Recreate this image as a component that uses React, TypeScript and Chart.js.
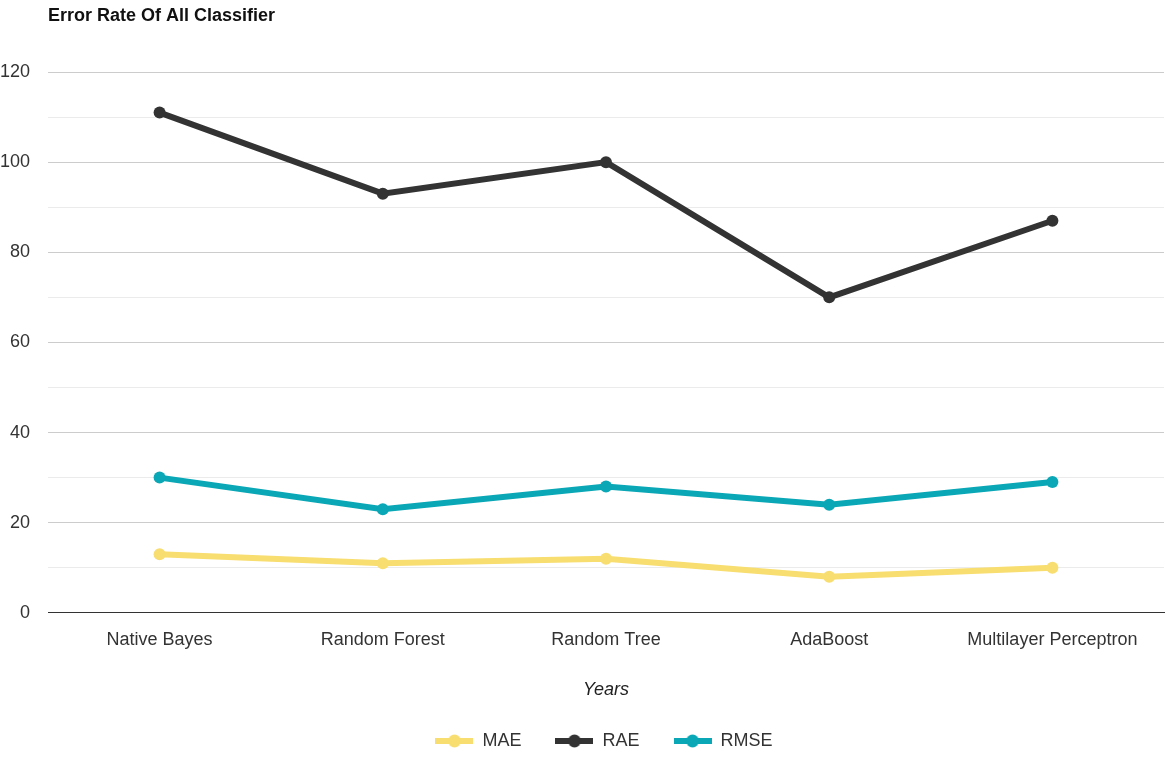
import React, { useEffect, useRef } from "react";
import { Chart, registerables } from "chart.js";

Chart.register(...registerables);

const categories = ["Native Bayes", "Random Forest", "Random Tree", "AdaBoost", "Multilayer Perceptron"];
const maeValues = [13, 11, 12, 8, 10];
const raeValues = [111, 93, 100, 70, 87];
const rmseValues = [30, 23, 28, 24, 29];
const seriesNames = ["MAE", "RAE", "RMSE"];
const seriesColors = ["#f8de70", "#333333", "#0aa7b6"];
const chartTitle = "Error Rate Of All Classifier";
const xAxisTitle = "Years";

const FONT = "'Liberation Sans', Arial, sans-serif";

// Legend marker: short thick line with a dot in the middle
function legendMarker(color: string): HTMLCanvasElement {
  const c = document.createElement("canvas");
  c.width = 38;
  c.height = 14;
  const g = c.getContext("2d")!;
  g.fillStyle = color;
  g.fillRect(0, 4, 38, 6);
  g.beginPath();
  g.arc(19, 7, 6.5, 0, Math.PI * 2);
  g.fill();
  return c;
}

// Title drawn flush with the left edge of the plot area; legend centred under the plot area
const titlePlugin = {
  id: "leftTitle",
  beforeDraw(chart: any) {
    if (chart.legend) {
      chart.legend.left = chart.chartArea.left - 4;
    }
  },
  afterDraw(chart: any) {
    const ctx = chart.ctx;
    ctx.save();
    ctx.font = `bold 18px ${FONT}`;
    ctx.fillStyle = "#111111";
    ctx.textBaseline = "middle";
    ctx.textAlign = "left";
    ctx.fillText(chartTitle, chart.chartArea.left, 16);
    ctx.restore();
  },
};

export default function App() {
  const ref = useRef<HTMLCanvasElement | null>(null);

  useEffect(() => {
    const canvas = ref.current;
    if (!canvas) return;
    const values = [maeValues, raeValues, rmseValues];
    const chart = new Chart(canvas, {
      type: "line",
      data: {
        labels: categories,
        datasets: seriesNames.map((name, i) => ({
          label: name,
          data: values[i],
          borderColor: seriesColors[i],
          backgroundColor: seriesColors[i],
          borderWidth: 6,
          pointRadius: 6,
          pointHoverRadius: 6,
          pointBorderWidth: 0,
          tension: 0,
          pointStyle: "circle",
        })),
      },
      options: {
        responsive: false,
        animation: false,
        layout: { autoPadding: false, padding: { top: 72, right: 2, left: 0, bottom: -2 } },
        plugins: {
          title: { display: false },
          tooltip: { enabled: false },
          legend: {
            position: "bottom",
            labels: {
              usePointStyle: true,
              pointStyleWidth: 38,
              padding: 34,
              color: "#333333",
              font: { family: FONT, size: 18 },
              generateLabels: (ch: any) =>
                ch.data.datasets.map((ds: any, i: number) => ({
                  text: ds.label,
                  pointStyle: legendMarker(seriesColors[i]),
                  fillStyle: seriesColors[i],
                  strokeStyle: seriesColors[i],
                  lineWidth: 0,
                  hidden: false,
                  datasetIndex: i,
                  fontColor: "#333333",
                })),
            },
          },
        },
        scales: {
          x: {
            offset: true,
            afterFit: (scale: any) => {
              scale.paddingLeft = 0;
              scale.paddingRight = 0;
            },
            grid: { display: false, drawTicks: false },
            border: { display: true, color: "#333333", width: 1 },
            ticks: {
              padding: 16,
              color: "#333333",
              font: { family: FONT, size: 18 },
              maxRotation: 0,
              autoSkip: false,
            },
            title: {
              display: true,
              text: xAxisTitle,
              color: "#222222",
              font: { family: FONT, size: 18, style: "italic" },
              padding: { top: 13, bottom: -3 },
            },
          },
          y: {
            min: 0,
            max: 120,
            border: { display: false },
            afterFit: (scale: any) => {
              scale.width = 48;
            },
            grid: {
              drawTicks: false,
              color: (c: any) =>
                c.tick.value === 0 ? "#333333" : c.tick.value % 20 === 0 ? "#cccccc" : "#ebebeb",
              lineWidth: 1,
            },
            ticks: {
              stepSize: 10,
              padding: 18,
              color: "#333333",
              font: { family: FONT, size: 18 },
              callback: (v: any) => (Number(v) % 20 === 0 ? String(v) : ""),
            },
          },
        },
      },
      plugins: [titlePlugin],
    });
    return () => chart.destroy();
  }, []);

  return (
    <div style={{ position: "absolute", left: 0, top: 0, width: 1166, height: 758, background: "#ffffff" }}>
      <canvas ref={ref} width={1166} height={758} />
    </div>
  );
}
